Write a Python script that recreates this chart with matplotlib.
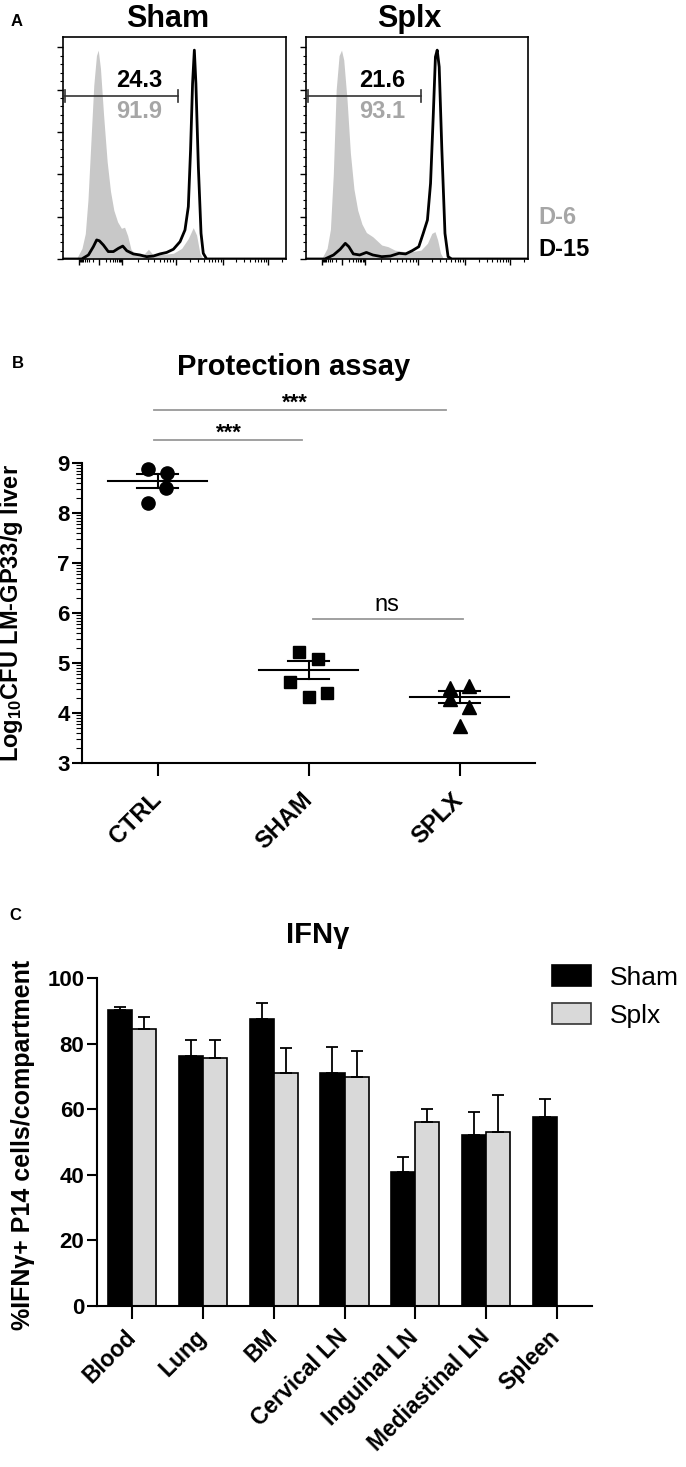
import numpy as np
import matplotlib
matplotlib.use('Agg')
import matplotlib.pyplot as plt
from matplotlib.patches import Patch

plt.rcParams['font.family'] = ['Liberation Sans', 'DejaVu Sans']
plt.rcParams['font.weight'] = 'bold'
plt.rcParams['axes.labelweight'] = 'bold'
plt.rcParams['mathtext.fontset'] = 'custom'
plt.rcParams['mathtext.rm'] = 'Liberation Sans:bold'
plt.rcParams['mathtext.bf'] = 'Liberation Sans:bold'
plt.rcParams['mathtext.default'] = 'regular'

FILL_GREY = '#c8c8c8'
TEXT_GREY = '#a6a6a6'
BAR_GREY = '#d9d9d9'
LINE_GREY = '#999999'

# ---- panel A : histograms (x = display channel 0-100, y = % of max)
sham_d6_x = [6.0, 8.5, 10.0, 11.2, 12.5, 13.8, 15.0, 15.8, 16.8, 18.2, 19.8, 21.3, 22.8, 24.5,
             26.2, 27.6, 29.0, 30.5, 33.0, 36.0, 38.3, 40.5, 45.0, 49.5, 53.2, 56.2, 58.4, 59.9,
             61.4, 62.9]
sham_d6_y = [0, 5.0, 12.0, 28.0, 55.0, 82.0, 96.0, 98.6, 90.0, 68.0, 46.0, 32.0, 23.0, 17.5,
             14.5, 15.0, 11.0, 4.5, 1.9, 1.9, 4.6, 1.9, 2.2, 2.7, 5.0, 9.7, 14.8, 11.3,
             2.7, 0]
sham_d15_x = [0.1, 8.4, 11.4, 13.6, 15.1, 16.3, 18.1, 20.3, 22.6, 24.8, 26.8, 28.6, 31.5, 34.5,
              37.5, 40.5, 43.5, 46.5, 49.5, 52.5, 54.7, 56.2, 57.2, 58.1, 58.9, 59.6, 60.7, 61.9,
              62.9, 64.4, 100]
sham_d15_y = [0, 0, 1.9, 5.8, 9.0, 8.6, 6.6, 3.5, 3.5, 5.0, 6.1, 3.9, 2.4, 1.9,
              1.1, 1.4, 2.4, 3.1, 4.6, 8.2, 13.7, 24.7, 51.4, 82.8, 98.6, 82.8, 43.5, 12.1,
              2.7, 0, 0]

splx_d6_x = [7.0, 9.5, 11.0, 12.3, 13.6, 14.9, 16.0, 17.0, 18.5, 20.0, 21.6, 23.3, 25.2, 27.2,
             30.1, 34.1, 37.0, 40.0, 43.9, 47.8, 51.8, 54.7, 56.7, 58.1, 59.3, 60.6, 62.0]
splx_d6_y = [0, 5.0, 14.0, 40.0, 80.0, 96.0, 98.6, 94.0, 75.0, 50.0, 33.0, 23.0, 16.5, 12.5,
             10.5, 6.6, 5.8, 4.2, 3.5, 3.5, 4.2, 7.4, 12.1, 12.9, 9.0, 2.7, 0]
splx_d15_x = [0, 8.5, 12.4, 15.4, 17.7, 19.3, 21.3, 24.2, 27.2, 30.1, 34.1, 38.0, 41.9, 44.9,
              47.8, 50.8, 52.8, 54.7, 56.1, 57.3, 58.3, 59.1, 60.0, 61.2, 62.6, 64.0, 65.6, 100]
splx_d15_y = [0, 0, 1.9, 4.6, 7.4, 5.8, 2.4, 1.9, 3.1, 1.9, 1.1, 1.4, 2.7, 2.4,
              3.9, 5.8, 12.1, 18.4, 35.7, 67.1, 95.4, 98.6, 90.7, 51.4, 12.1, 1.1, 0, 0]

hist_groups = ['Sham', 'Splx']
gate_d15 = ['24.3', '21.6']
gate_d6 = ['91.9', '93.1']

# ---- panel B : protection assay
groups_b = ['CTRL', 'SHAM', 'SPLX']
ctrl_x = [-0.066, 0.06, 0.053, -0.066]
ctrl_y = [8.88, 8.79, 8.50, 8.19]
sham_x = [0.94, 1.066, 0.88, 1.0, 1.12]
sham_y = [5.21, 5.07, 4.62, 4.31, 4.39]
splx_x = [1.94, 2.066, 1.94, 2.066, 2.0]
splx_y = [4.50, 4.53, 4.27, 4.12, 3.73]
mean_b = [8.64, 4.85, 4.32]
sem_b = [0.135, 0.18, 0.12]

# ---- panel C : IFNg
organs = ['Blood', 'Lung', 'BM', 'Cervical LN', 'Inguinal LN', 'Mediastinal LN', 'Spleen']
ifn_sham = [90.2, 76.2, 87.6, 71.0, 41.0, 52.1, 57.7]
ifn_sham_err = [0.9, 4.8, 4.8, 8.0, 4.5, 6.9, 5.3]
ifn_splx = [84.3, 75.6, 71.1, 69.7, 56.2, 53.0, np.nan]
ifn_splx_err = [3.7, 5.5, 7.6, 7.9, 4.0, 11.2, np.nan]

W, H = 686, 1467
fig = plt.figure(figsize=(W / 100, H / 100), dpi=100)


def fax(x0, y0, x1, y1):
    # axes from pixel box (top-left origin)
    return fig.add_axes([x0 / W, 1 - y1 / H, (x1 - x0) / W, (y1 - y0) / H])


# ================= A
x_major = [7.2, 16.1, 26.6, 50.5, 71.6, 92.1]
x_minor = [x_major[1] - (x_major[1] - x_major[0]) * np.log10(k) for k in range(2, 10)]
for a, b in zip(x_major[1:-1], x_major[2:]):
    x_minor += [a + (b - a) * np.log10(k) for k in range(2, 10)]
x_minor += [x_major[-1] + 20.5 * np.log10(2)]

hists = [(sham_d6_x, sham_d6_y, sham_d15_x, sham_d15_y),
         (splx_d6_x, splx_d6_y, splx_d15_x, splx_d15_y)]
boxes = [(63, 37, 286, 259), (306, 37, 528, 259)]
title_x = [168, 409]
for i, (g6x, g6y, g15x, g15y) in enumerate(hists):
    ax = fax(*boxes[i])
    ax.fill_between(g6x, g6y, color=FILL_GREY, lw=0)
    ax.plot(g15x, g15y, color='black', lw=2)
    ax.set_xlim(0, 100)
    ax.set_ylim(0, 104.8)
    for s in ax.spines.values():
        s.set_linewidth(1.2)
    ax.set_yticks(np.arange(0, 101, 20))
    ax.set_yticks(np.arange(0, 101, 4), minor=True)
    ax.set_xticks(x_major)
    ax.set_xticks(x_minor, minor=True)
    ax.tick_params(which='major', length=4, width=1, direction='out')
    ax.tick_params(which='minor', length=2, width=0.8, direction='out')
    ax.tick_params(labelleft=False, labelbottom=False)
    # gate
    ax.plot([0.9, 51.7], [77, 77], color='#333333', lw=1.2)
    ax.plot([0.9, 0.9], [74, 80], color='#333333', lw=1.2)
    ax.plot([51.7, 51.7], [74, 80], color='#333333', lw=1.2)
    ax.text(34.2, 84.5, gate_d15[i], ha='center', va='center', fontsize=17,
            fontweight='bold', color='black')
    ax.text(34.2, 69.5, gate_d6[i], ha='center', va='center', fontsize=17,
            fontweight='bold', color=TEXT_GREY)
    fig.text(title_x[i] / W, 1 - 19 / H, hist_groups[i], ha='center', va='center',
             fontsize=22, fontweight='bold')

fig.text(538 / W, 1 - 218 / H, 'D-6', ha='left', va='center', fontsize=17,
         fontweight='bold', color=TEXT_GREY)
fig.text(538 / W, 1 - 249 / H, 'D-15', ha='left', va='center', fontsize=17,
         fontweight='bold', color='black')
fig.text(17 / W, 1 - 22 / H, 'A', ha='center', va='center', fontsize=12, fontweight='bold')

# ================= B
ax = fax(82, 463, 535, 763)
ax.plot(ctrl_x, ctrl_y, 'o', color='black', ms=9.5, clip_on=False)
ax.plot(sham_x, sham_y, 's', color='black', ms=9, clip_on=False)
ax.plot(splx_x, splx_y, '^', color='black', ms=10, clip_on=False)
for i in range(3):
    m, e = mean_b[i], sem_b[i]
    ax.plot([i - 0.33, i + 0.33], [m, m], color='black', lw=1.5)
    ax.plot([i - 0.135, i + 0.135], [m + e, m + e], color='black', lw=1.5)
    ax.plot([i - 0.135, i + 0.135], [m - e, m - e], color='black', lw=1.5)
    ax.plot([i, i], [m - e, m + e], color='black', lw=1.5)
ax.set_xlim(-0.5, 2.5)
ax.set_ylim(3, 9)
ax.spines['top'].set_visible(False)
ax.spines['right'].set_visible(False)
ax.spines['left'].set_linewidth(1.5)
ax.spines['bottom'].set_linewidth(1.5)
ax.set_xticks(range(3))
ax.set_xticklabels(groups_b, rotation=45, ha='right', va='center', rotation_mode='anchor',
                   fontsize=17, fontweight='bold')
ax.set_yticks(range(3, 10))
ax.set_yticklabels([str(v) for v in range(3, 10)], fontsize=16, fontweight='bold')
ax.set_yticks([d + np.log10(k) for d in range(3, 9) for k in range(2, 10)], minor=True)
ax.tick_params(axis='y', which='major', length=7, width=1.5, pad=2)
ax.tick_params(axis='y', which='minor', length=4, width=0.8)
ax.tick_params(axis='x', which='major', length=9, width=1.5, pad=15)
ax.set_ylabel('Log$_{10}$CFU LM-GP33/g liver', fontsize=17, fontweight='bold')
ax.yaxis.set_label_coords(-0.126, 0.5)

# significance bars
ax.plot([-0.02, 1.91], [10.06, 10.06], color=LINE_GREY, lw=1.3, clip_on=False)
ax.text(0.91, 10.2, '***', ha='center', va='center', fontsize=16, fontweight='bold', clip_on=False)
ax.plot([-0.02, 0.96], [9.46, 9.46], color=LINE_GREY, lw=1.3, clip_on=False)
ax.text(0.47, 9.6, '***', ha='center', va='center', fontsize=16, fontweight='bold', clip_on=False)
ax.plot([1.03, 2.02], [5.88, 5.88], color=LINE_GREY, lw=1.3, clip_on=False)
ax.text(1.52, 6.16, 'ns', ha='center', va='center', fontsize=17, fontweight='normal')

fig.text(294 / W, 1 - 367 / H, 'Protection assay', ha='center', va='center', fontsize=21,
         fontweight='bold')
fig.text(18 / W, 1 - 364 / H, 'B', ha='center', va='center', fontsize=12, fontweight='bold')

# ================= C
ax = fax(97, 978, 592, 1306)
x = np.arange(len(organs))
w = 0.34
sham_v = np.array(ifn_sham)
splx_v = np.array(ifn_splx)
ok = np.isfinite(splx_v)
ax.bar(x - w / 2, sham_v, w, color='black', edgecolor='black', lw=1.2, label='Sham')
ax.bar(x[ok] + w / 2, splx_v[ok], w, color=BAR_GREY, edgecolor='black', lw=1.2, label='Splx')
ax.errorbar(x - w / 2, sham_v, yerr=[np.zeros(len(x)), ifn_sham_err], fmt='none',
            ecolor='black', elinewidth=1.3, capsize=4.5, capthick=1.3)
ax.errorbar(x[ok] + w / 2, splx_v[ok], yerr=[np.zeros(ok.sum()), np.array(ifn_splx_err)[ok]],
            fmt='none', ecolor='black', elinewidth=1.3, capsize=4.5, capthick=1.3)
ax.set_xlim(-0.5, 6.5)
ax.set_ylim(0, 100)
ax.spines['top'].set_visible(False)
ax.spines['right'].set_visible(False)
ax.spines['left'].set_linewidth(1.5)
ax.spines['bottom'].set_linewidth(1.5)
ax.set_xticks(x)
ax.set_xticklabels(organs, rotation=45, ha='right', va='center', rotation_mode='anchor',
                   fontsize=16.5, fontweight='bold')
ax.set_yticks(range(0, 101, 20))
ax.set_yticklabels([str(v) for v in range(0, 101, 20)], fontsize=16, fontweight='bold')
ax.tick_params(axis='y', length=7, width=1.5, pad=2)
ax.tick_params(axis='x', length=9, width=1.5, pad=11)
ax.set_ylabel('%IFNγ+ P14 cells/compartment', fontsize=18, fontweight='bold')
ax.yaxis.set_label_coords(-0.126, 0.49)

handles = [Patch(facecolor='black', edgecolor='black', lw=1.2),
           Patch(facecolor=BAR_GREY, edgecolor='#333333', lw=1.2)]
ax.legend(handles, ['Sham', 'Splx'], loc='upper left', bbox_to_anchor=(552 / W, 1 - 965 / H),
          bbox_transform=fig.transFigure, frameon=False, borderpad=0, borderaxespad=0,
          handlelength=1.48, handleheight=0.87, handletextpad=0.7, labelspacing=0.5,
          prop={'size': 19, 'weight': 'normal'})

fig.text(318 / W, 1 - 935 / H, 'IFNγ', ha='center', va='center', fontsize=21, fontweight='bold')
fig.text(15 / W, 1 - 915 / H, 'C', ha='center', va='center', fontsize=12, fontweight='bold')

fig.savefig('out.png', dpi=100)
